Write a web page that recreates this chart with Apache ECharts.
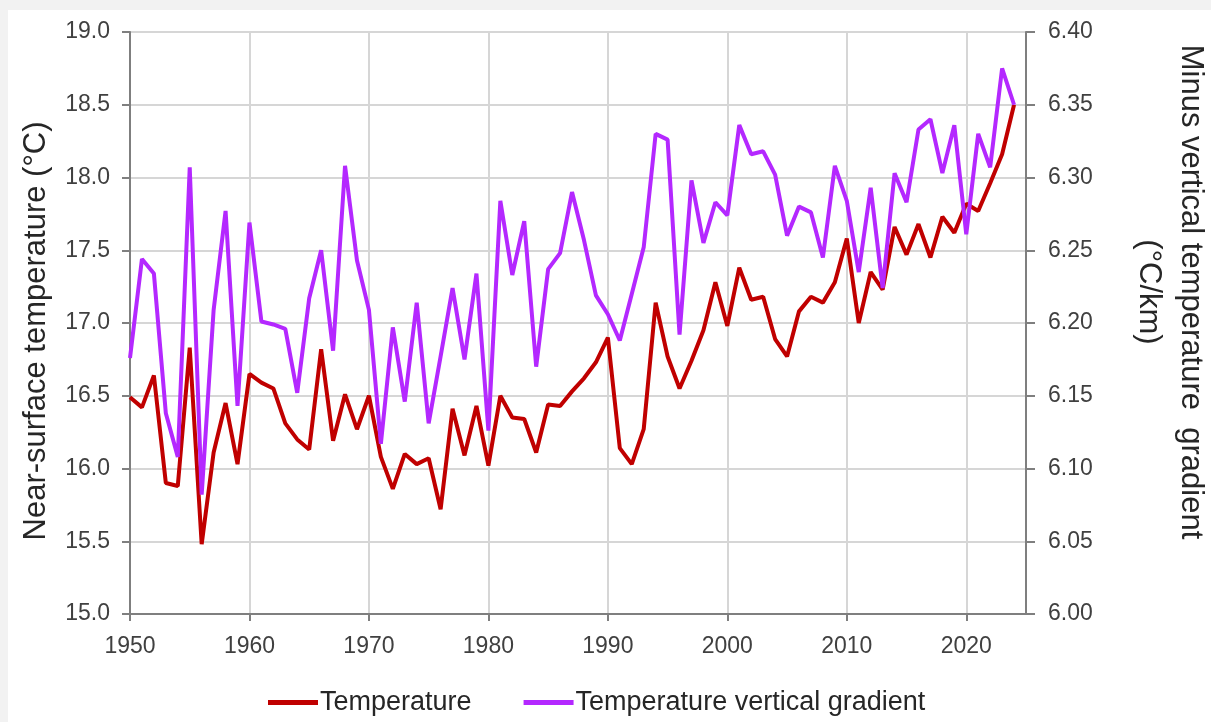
<!DOCTYPE html>
<html>
<head>
<meta charset="utf-8">
<script src="https://cdn.jsdelivr.net/npm/echarts@6/dist/echarts.min.js"></script>
<style>
html,body{margin:0;padding:0;background:#f2f2f2;}
#wrap{position:absolute;left:8px;top:10px;width:1203px;height:712px;background:#fff;}
#chart{position:absolute;left:-8px;top:-10px;width:1211px;height:722px;}
</style>
</head>
<body>
<div id="wrap"><div id="chart"></div></div>
<script>
const years = [1950,1951,1952,1953,1954,1955,1956,1957,1958,1959,
  1960,1961,1962,1963,1964,1965,1966,1967,1968,1969,
  1970,1971,1972,1973,1974,1975,1976,1977,1978,1979,
  1980,1981,1982,1983,1984,1985,1986,1987,1988,1989,
  1990,1991,1992,1993,1994,1995,1996,1997,1998,1999,
  2000,2001,2002,2003,2004,2005,2006,2007,2008,2009,
  2010,2011,2012,2013,2014,2015,2016,2017,2018,2019,
  2020,2021,2022,2023,2024];

const temperature = [16.49,16.42,16.64,15.90,15.88,16.83,15.48,16.11,16.45,16.03,
  16.65,16.59,16.55,16.31,16.20,16.13,16.82,16.19,16.51,16.27,
  16.50,16.08,15.86,16.10,16.03,16.07,15.72,16.41,16.09,16.43,
  16.02,16.50,16.35,16.34,16.11,16.44,16.43,16.53,16.62,16.73,
  16.90,16.14,16.03,16.27,17.14,16.77,16.55,16.74,16.95,17.28,
  16.98,17.38,17.16,17.18,16.89,16.77,17.08,17.18,17.14,17.28,
  17.58,17.00,17.35,17.23,17.66,17.47,17.68,17.45,17.73,17.62,
  17.82,17.77,17.96,18.16,18.50];

const gradient = [6.176,6.244,6.234,6.138,6.108,6.307,6.082,6.209,6.277,6.143,
  6.269,6.201,6.199,6.196,6.152,6.217,6.250,6.181,6.308,6.243,
  6.209,6.117,6.197,6.146,6.214,6.131,6.177,6.224,6.175,6.234,
  6.126,6.284,6.233,6.270,6.170,6.237,6.248,6.290,6.257,6.219,
  6.206,6.188,6.220,6.252,6.330,6.326,6.192,6.298,6.255,6.283,
  6.274,6.336,6.316,6.318,6.302,6.260,6.280,6.276,6.245,6.308,
  6.284,6.235,6.293,6.224,6.303,6.283,6.333,6.340,6.303,6.336,
  6.261,6.330,6.307,6.375,6.350];

const seriesNames = ['Temperature', 'Temperature vertical gradient'];
const leftTitle = 'Near-surface temperature (°C)';
const rightTitle = 'Minus vertical temperature  gradient\n(°C/km)';

const FONT = '"Liberation Sans", Arial, sans-serif';
const chart = echarts.init(document.getElementById('chart'), null, {renderer: 'canvas'});

const axisText = {color: '#404040', fontSize: 23, fontFamily: FONT};

chart.setOption({
  backgroundColor: 'transparent',
  animation: false,
  grid: {left: 130, right: 185, top: 32, bottom: 108, show: true, borderColor: '#7f7f7f', borderWidth: 2},
  legend: {
    left: 263, top: 684,
    icon: 'rect', itemWidth: 50, itemHeight: 5, itemGap: 52,
    textStyle: {color: '#262626', fontSize: 27, fontFamily: FONT, padding: [0,0,0,-3]},
    data: seriesNames
  },
  xAxis: {
    type: 'value', min: 1950, max: 2025, interval: 10,
    axisLine: {show: true, lineStyle: {color: '#7f7f7f', width: 2}},
    axisTick: {show: true, length: 7, lineStyle: {color: '#7f7f7f', width: 2}},
    axisLabel: Object.assign({margin: 21, showMaxLabel: false, formatter: v => String(v)}, axisText),
    splitLine: {show: true, lineStyle: {color: '#d6d6d6', width: 2}}
  },
  yAxis: [{
    type: 'value', min: 15, max: 19, interval: 0.5,
    axisLine: {show: true, lineStyle: {color: '#7f7f7f', width: 2}},
    axisTick: {show: true, length: 8, lineStyle: {color: '#7f7f7f', width: 2}},
    axisLabel: Object.assign({margin: 20, formatter: v => v.toFixed(1)}, axisText),
    splitLine: {show: true, lineStyle: {color: '#d6d6d6', width: 2}}
  }, {
    type: 'value', min: 6.0, max: 6.4, interval: 0.05, position: 'right',
    axisLine: {show: true, lineStyle: {color: '#7f7f7f', width: 2}},
    axisTick: {show: true, length: 9, lineStyle: {color: '#7f7f7f', width: 2}},
    axisLabel: Object.assign({margin: 22, formatter: v => v.toFixed(2)}, axisText),
    splitLine: {show: false}
  }],
  series: [{
    name: seriesNames[0], type: 'line', yAxisIndex: 0,
    showSymbol: false, symbol: 'none',
    lineStyle: {color: '#C00000', width: 4},
    itemStyle: {color: '#C00000'},
    data: years.map((y, i) => [y, temperature[i]])
  }, {
    name: seriesNames[1], type: 'line', yAxisIndex: 1,
    showSymbol: false, symbol: 'none',
    lineStyle: {color: '#B428FF', width: 4},
    itemStyle: {color: '#B428FF'},
    data: years.map((y, i) => [y, gradient[i]])
  }],
  graphic: [{
    type: 'text', x: 36, y: 331, rotation: Math.PI / 2,
    style: {text: leftTitle, x: 0, y: 0, align: 'center', verticalAlign: 'middle',
      fill: '#262626', font: '31px ' + FONT}
  }, {
    type: 'text', x: 1170, y: 292, rotation: -Math.PI / 2,
    style: {text: rightTitle, x: 0, y: 0, align: 'center', verticalAlign: 'middle',
      lineHeight: 42, fill: '#262626', font: '31px ' + FONT}
  }]
});
</script>
</body>
</html>
